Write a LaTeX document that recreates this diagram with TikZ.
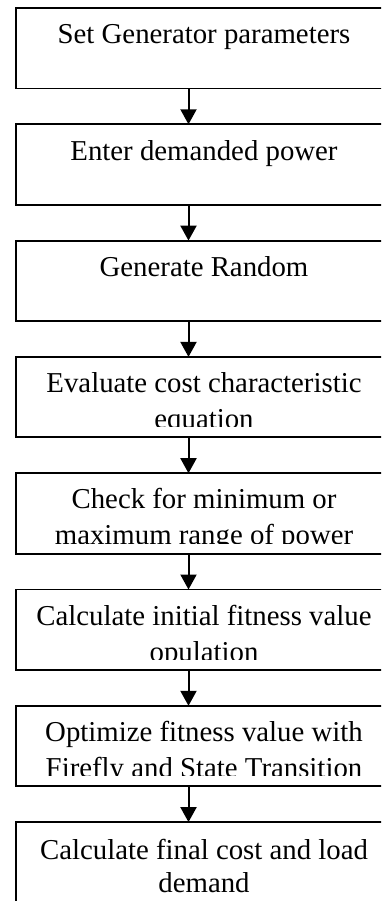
\documentclass[tikz,border=0pt]{standalone}
\usepackage{fontspec}
\setmainfont{Liberation Serif}
\usetikzlibrary{arrows.meta}
\begin{document}
\begin{tikzpicture}[x=1pt,y=-1pt,
  stepbox/.style={draw=black, line width=1.9pt, fill=white, rectangle, outer sep=0pt,
    inner sep=0pt, minimum width=376pt, minimum height=80.5pt, anchor=north west},
  lastbox/.style={stepbox, minimum height=110pt},
  lbl/.style={anchor=base, inner sep=0pt, font=\fontsize{28.8}{35}\selectfont},
  arr/.style={line width=2pt, -{Triangle[length=15pt,width=16pt]}}]
\useasboundingbox (0,0) rectangle (381,901);
\clip (0,0) rectangle (381,901);
\fill[white] (0,0) rectangle (381,901);
% boxes
\node[stepbox] (b1) at (15.7,8.0) {};
\node[stepbox] (b2) at (15.7,124.3) {};
\node[stepbox] (b3) at (15.7,240.6) {};
\node[stepbox] (b4) at (15.7,356.9) {};
\node[stepbox] (b5) at (15.7,473.2) {};
\node[stepbox] (b6) at (15.7,589.5) {};
\node[stepbox] (b7) at (15.7,705.8) {};
\node[lastbox] (b8) at (15.7,822.1) {};
% texts (clipped to the inner area of each box)
\begin{scope}
\clip (b1.north west) rectangle ([yshift=-70pt]b1.north east);
\node[lbl] (t1) at (204,44) {Set Generator parameters};
\end{scope}
\begin{scope}
\clip (b2.north west) rectangle ([yshift=-70pt]b2.north east);
\node[lbl] (t2) at (204,160.3) {Enter demanded power};
\end{scope}
\begin{scope}
\clip (b3.north west) rectangle ([yshift=-70pt]b3.north east);
\node[lbl] (t3) at (204,276.6) {Generate Random};
\end{scope}
\begin{scope}
\clip (b4.north west) rectangle ([yshift=-70pt]b4.north east);
\node[lbl] (t4a) at (204,392.4) {Evaluate cost characteristic};
\node[lbl] (t4b) at (204,428.4) {equation};
\end{scope}
\begin{scope}
\clip (b5.north west) rectangle ([yshift=-70pt]b5.north east);
\node[lbl] (t5a) at (204,508.7) {Check for minimum or};
\node[lbl] (t5b) at (204,544.7) {maximum range of power};
\end{scope}
\begin{scope}
\clip (b6.north west) rectangle ([yshift=-70pt]b6.north east);
\node[lbl] (t6a) at (204,625.0) {Calculate initial fitness value};
\node[lbl] (t6b) at (204,661.0) {opulation};
\end{scope}
\begin{scope}
\clip (b7.north west) rectangle ([yshift=-70pt]b7.north east);
\node[lbl] (t7a) at (204,741.3) {Optimize fitness value with};
\node[lbl] (t7b) at (204,777.3) {Firefly and State Transition};
\end{scope}
\node[lbl] (t8a) at (204,859.5) {Calculate final cost and load};
\node[lbl] (t8b) at (204,892.5) {demand};
% arrows
\draw[arr] ([xshift=172.8pt]b1.south west) -- ([xshift=172.8pt]b2.north west);
\draw[arr] ([xshift=172.8pt]b2.south west) -- ([xshift=172.8pt]b3.north west);
\draw[arr] ([xshift=172.8pt]b3.south west) -- ([xshift=172.8pt]b4.north west);
\draw[arr] ([xshift=172.8pt]b4.south west) -- ([xshift=172.8pt]b5.north west);
\draw[arr] ([xshift=172.8pt]b5.south west) -- ([xshift=172.8pt]b6.north west);
\draw[arr] ([xshift=172.8pt]b6.south west) -- ([xshift=172.8pt]b7.north west);
\draw[arr] ([xshift=172.8pt]b7.south west) -- ([xshift=172.8pt]b8.north west);
\end{tikzpicture}
\end{document}
